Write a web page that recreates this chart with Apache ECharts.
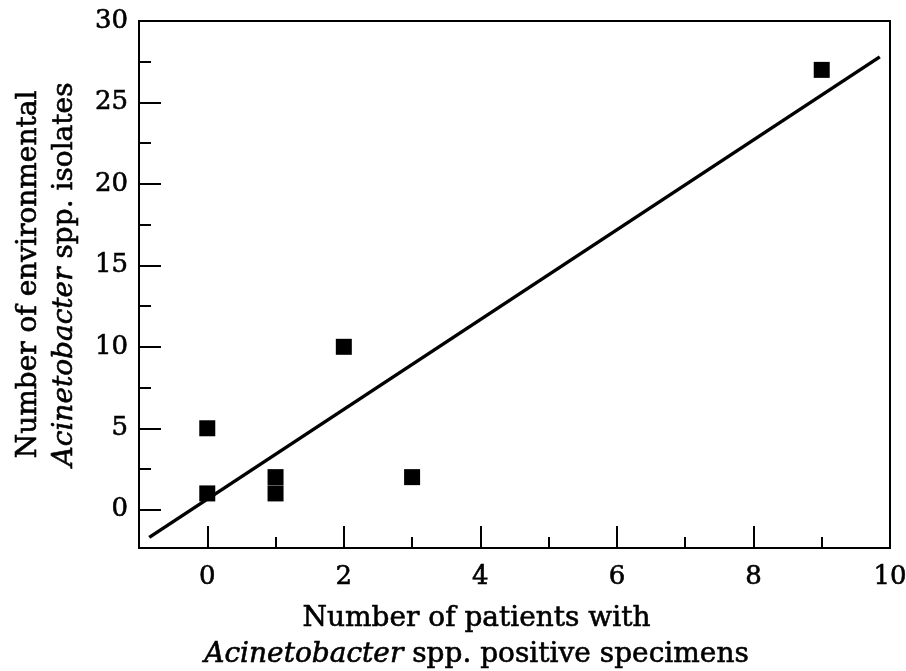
<!DOCTYPE html>
<html>
<head>
<meta charset="utf-8">
<script src="https://cdn.jsdelivr.net/npm/echarts@6/dist/echarts.min.js"></script>
<style>
  html, body { margin: 0; padding: 0; background: #fff; }
  #chart { width: 906px; height: 671px; }
</style>
</head>
<body>
<div id="chart"></div>
<script>
'use strict';
// points: patients (x) vs environmental isolates (y)
const patients = [0, 0, 1, 1, 2, 3, 9];
const isolates = [5, 1, 2, 1, 10, 2, 27];
// fitted line as drawn, end points only
const fitX = [-0.85, 9.85];
const fitY = [-1.7, 27.8];

const xMajor = [0, 2, 4, 6, 8, 10];
const xMinor = [1, 3, 5, 7, 9];
const yMajor = [0, 5, 10, 15, 20, 25, 30];
const yMinor = [2.5, 7.5, 12.5, 17.5, 22.5, 27.5];

const font = "DejaVu Serif";

const chart = echarts.init(document.getElementById('chart'), null, { renderer: 'canvas' });

// a thin outline makes the serif look as heavy as the scanned figure
const ink = { color: '#000', textBorderColor: '#000', textBorderWidth: 0.6 };
const tickText = Object.assign({ fontFamily: font, fontSize: 26 }, ink);
const titleRich = {
    n: Object.assign({ fontFamily: font, fontSize: 28, lineHeight: 36 }, ink),
    i: Object.assign({ fontFamily: font, fontSize: 28, lineHeight: 36, fontStyle: 'italic' }, ink)
};
const tickLine = { color: '#000', width: 2 };

chart.setOption({
    animation: false,
    backgroundColor: '#fff',
    grid: {
        left: 139, right: 16, top: 21, bottom: 123,
        outerBoundsMode: 'none',
        containLabel: false,
        show: true, borderColor: '#000', borderWidth: 2, backgroundColor: 'transparent'
    },
    xAxis: [{
        type: 'value', min: -1, max: 10,
        splitLine: { show: false },
        axisLine: { onZero: false, lineStyle: tickLine },
        axisTick: { inside: true, length: 22, customValues: xMajor, lineStyle: tickLine },
        axisLabel: Object.assign({ customValues: xMajor, margin: 16 }, tickText),
        name: '{n|Number of patients with}\n{i|Acinetobacter}{n| spp. positive specimens}',
        nameLocation: 'middle',
        nameGap: 53,
        nameTextStyle: { padding: [0, 76, 0, 0], rich: titleRich }
    }, {
        type: 'value', min: -1, max: 10, position: 'bottom',
        splitLine: { show: false },
        axisLine: { show: false, onZero: false },
        axisTick: { inside: true, length: 11, customValues: xMinor, lineStyle: tickLine },
        axisLabel: { show: false }
    }],
    yAxis: [{
        type: 'value', min: -2.35, max: 30,
        splitLine: { show: false },
        axisLine: { onZero: false, lineStyle: tickLine },
        axisTick: { inside: true, length: 22, customValues: yMajor, lineStyle: tickLine },
        axisLabel: Object.assign({ customValues: yMajor, margin: 11 }, tickText),
        name: '{n|Number of environmental}\n{i|Acinetobacter}{n| spp. isolates}',
        nameLocation: 'middle',
        nameRotate: 90,
        nameGap: 56,
        nameTextStyle: { padding: [0, 0, 0, 20], rich: titleRich }
    }, {
        type: 'value', min: -2.35, max: 30, position: 'left',
        splitLine: { show: false },
        axisLine: { show: false, onZero: false },
        axisTick: { inside: true, length: 12, customValues: yMinor, lineStyle: tickLine },
        axisLabel: { show: false }
    }],
    series: [{
        type: 'line',
        data: fitX.map((x, i) => [x, fitY[i]]),
        showSymbol: false,
        symbol: 'none',
        lineStyle: { color: '#000', width: 3.5 },
        z: 2
    }, {
        type: 'scatter',
        data: patients.map((x, i) => [x, isolates[i]]),
        symbol: 'rect',
        symbolSize: 16,
        itemStyle: { color: '#000', opacity: 1 },
        z: 3
    }]
});
</script>
</body>
</html>
